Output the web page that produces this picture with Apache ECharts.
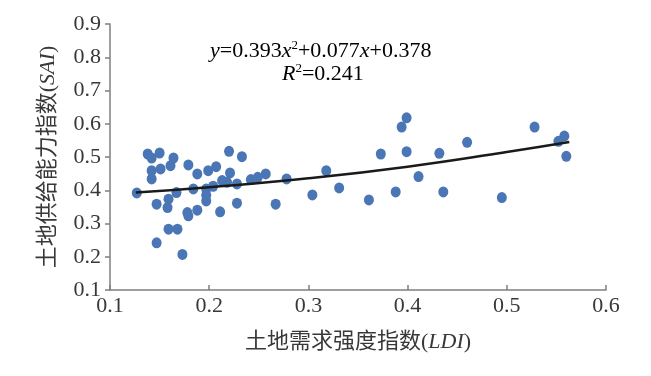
<!DOCTYPE html>
<html>
<head>
<meta charset="utf-8">
<script src="https://cdn.jsdelivr.net/npm/echarts@6/dist/echarts.min.js"></script>
<style>
  html, body { margin: 0; padding: 0; background: #fff; }
  #chart { width: 651px; height: 376px; }
</style>
</head>
<body>
<div id="chart"></div>
<script>
// LDI (x) values of each county
var ldi = [
  0.127, 0.138, 0.142, 0.150, 0.142, 0.142, 0.151, 0.161, 0.164, 0.179,
  0.188, 0.199, 0.207, 0.220, 0.233, 0.221, 0.213, 0.218, 0.228, 0.242,
  0.249, 0.257, 0.278, 0.184, 0.197, 0.204, 0.147, 0.159, 0.167, 0.158,
  0.178, 0.179, 0.188, 0.197, 0.197, 0.211, 0.228, 0.267, 0.159, 0.168,
  0.147, 0.173,
  0.399, 0.394, 0.373, 0.399, 0.432, 0.318, 0.411, 0.304, 0.331, 0.361,
  0.388, 0.436, 0.460, 0.528, 0.558, 0.552, 0.560, 0.495
]
// SAI (y) values
var sai = [
  0.392, 0.509, 0.497, 0.512, 0.459, 0.434, 0.464, 0.474, 0.497, 0.476,
  0.449, 0.459, 0.471, 0.517, 0.501, 0.452, 0.429, 0.424, 0.419, 0.432,
  0.439, 0.449, 0.434, 0.404, 0.404, 0.412, 0.358, 0.373, 0.393, 0.348,
  0.333, 0.323, 0.340, 0.368, 0.385, 0.335, 0.361, 0.358, 0.283, 0.283,
  0.242, 0.207,
  0.618, 0.590, 0.509, 0.516, 0.511, 0.459, 0.441, 0.386, 0.407, 0.371,
  0.395, 0.395, 0.544, 0.590, 0.563, 0.547, 0.502, 0.378
]
// trend curve
var trendX = [0.126, 0.2, 0.3, 0.4, 0.5, 0.563]
var trendY = [0.393, 0.409, 0.436, 0.471, 0.515, 0.545]

var xTicks = ['0.1', '0.2', '0.3', '0.4', '0.5', '0.6']
var yTicks = ['0.1', '0.2', '0.3', '0.4', '0.5', '0.6', '0.7', '0.8', '0.9']

var points = ldi.map(function (v, i) { return [v, sai[i]] })
var trend = trendX.map(function (v, i) { return [v, trendY[i]] })

var serif = '"Liberation Serif", "Times New Roman", "Noto Sans CJK SC", serif'
var textColor = '#383838'
var fs = 22

var richItalic = {
  i: { fontStyle: 'italic', fontFamily: serif, fontSize: fs, color: textColor },
  s: { fontFamily: serif, fontSize: 13, verticalAlign: 'top', padding: [0, 0, 10, 0], color: '#000' }
}

var mychart = echarts.init(document.getElementById('chart'))
var myoption = {
  animation: false,
  grid: { left: 110, right: 45, top: 24, bottom: 86 },
  xAxis: {
    type: 'value',
    min: 0.1,
    max: 0.6,
    interval: 0.1,
    name: '土地需求强度指数({i|LDI})',
    nameLocation: 'middle',
    nameGap: 41,
    nameTextStyle: {
      fontFamily: serif,
      fontSize: fs,
      color: textColor,
      rich: richItalic
    },
    axisLine: { show: true, onZero: false, lineStyle: { color: '#7f7f7f', width: 1.5 } },
    axisTick: { show: true, inside: true, length: 5, lineStyle: { color: '#7f7f7f', width: 1.5 } },
    splitLine: { show: false },
    axisLabel: {
      fontFamily: serif,
      fontSize: fs,
      color: textColor,
      margin: 5,
      formatter: function (v) { return xTicks[Math.round((v - 0.1) * 10)] }
    }
  },
  yAxis: {
    type: 'value',
    min: 0.1,
    max: 0.9,
    interval: 0.1,
    name: '土地供给能力指数({i|SAI})',
    nameLocation: 'middle',
    nameGap: 51,
    nameTextStyle: {
      fontFamily: serif,
      fontSize: fs,
      color: textColor,
      rich: richItalic
    },
    axisLine: { show: true, onZero: false, lineStyle: { color: '#7f7f7f', width: 1.5 } },
    axisTick: { show: true, inside: false, length: 5, lineStyle: { color: '#7f7f7f', width: 1.5 } },
    splitLine: { show: false },
    axisLabel: {
      fontFamily: serif,
      fontSize: fs,
      color: textColor,
      margin: 9,
      formatter: function (v) { return yTicks[Math.round((v - 0.1) * 10)] }
    }
  },
  graphic: [
    {
      type: 'text',
      x: 210,
      y: 51,
      style: {
        text: '{i|y}=0.393{i|x}{s|2}+0.077{i|x}+0.378',
        fill: '#000',
        fontFamily: serif,
        fontSize: fs,
        verticalAlign: 'middle',
        rich: {
          i: { fontStyle: 'italic', fontFamily: serif, fontSize: fs },
          s: { fontFamily: serif, fontSize: 13, verticalAlign: 'top', padding: [0, 0, 10, 0] }
        }
      }
    },
    {
      type: 'text',
      x: 282,
      y: 74,
      style: {
        text: '{i|R}{s|2}=0.241',
        fill: '#000',
        fontFamily: serif,
        fontSize: fs,
        verticalAlign: 'middle',
        rich: {
          i: { fontStyle: 'italic', fontFamily: serif, fontSize: fs },
          s: { fontFamily: serif, fontSize: 13, verticalAlign: 'top', padding: [0, 0, 10, 0] }
        }
      }
    }
  ],
  series: [
    {
      type: 'scatter',
      data: points,
      symbolSize: [10, 11],
      itemStyle: { color: '#4a76b5', opacity: 1 },
      z: 2
    },
    {
      type: 'line',
      data: trend,
      smooth: true,
      symbol: 'none',
      lineStyle: { color: '#1a1a1a', width: 2.5 },
      z: 3
    }
  ]
}
mychart.setOption(myoption)
</script>
</body>
</html>
